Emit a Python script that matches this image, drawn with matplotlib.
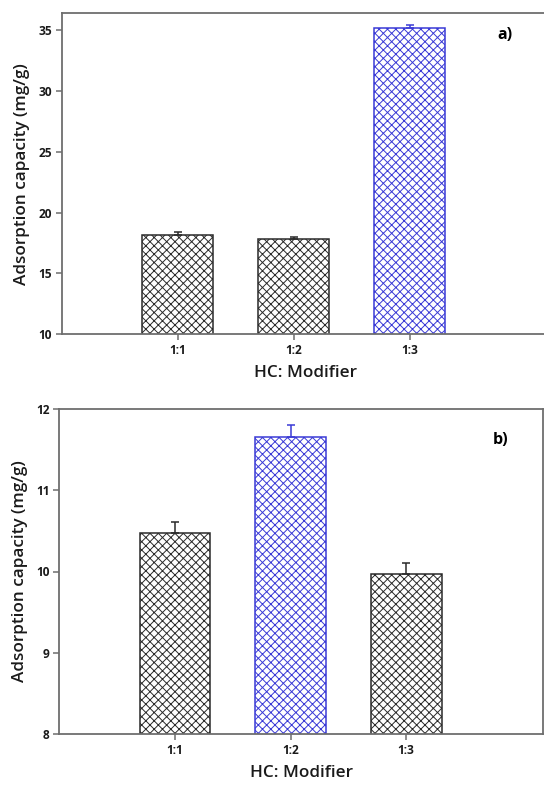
import matplotlib
matplotlib.use("Agg")
import matplotlib.pyplot as plt
import numpy as np

# data
ratios = ["1:1", "1:2", "1:3"]
cap_a = [18.13, 17.80, 35.19]
err_a = [0.25, 0.22, 0.28]
cap_b = [10.47, 11.66, 9.97]
err_b = [0.14, 0.14, 0.13]
hi_a = 2  # index of the blue bar
hi_b = 1

plt.rcParams['font.family'] = ['Open Sans', 'DejaVu Sans']
plt.rcParams['hatch.linewidth'] = 0.7

blk = '#2a2a2a'
blue = '#3a3ad6'
spine = '#6e6e6e'

W, H = 544, 789
fig = plt.figure(figsize=(W / 100, H / 100), dpi=100)


def panel(rect, vals, errs, hi, ylim, yticks, xmax, tag, tagpos):
    ax = fig.add_axes(rect)
    x = np.arange(1, len(vals) + 1)
    for i in range(len(vals)):
        c = blue if i == hi else blk
        ax.bar(x[i], vals[i], width=0.61, bottom=0, color='white', edgecolor=c,
               hatch='xxxx', linewidth=1.1, zorder=2)
        ax.errorbar(x[i], vals[i], yerr=[[0], [errs[i]]], fmt='none', ecolor=c,
                    elinewidth=1.1, capsize=3, capthick=1.1, zorder=3)
    ax.set_xlim(0, xmax)
    ax.set_ylim(*ylim)
    ax.set_yticks(yticks)
    ax.set_xticks(x)
    ax.set_xticklabels(ratios)
    for s in ax.spines.values():
        s.set_color(spine)
        s.set_linewidth(1.3)
    ax.tick_params(direction='out', length=4, width=1.1, color=spine,
                   labelsize=8.6, pad=3)
    for lb in ax.get_xticklabels() + ax.get_yticklabels():
        lb.set_fontweight('bold')
        lb.set_color('#1a1a1a')
    ax.set_ylabel('Adsorption capacity (mg/g)', fontsize=12.3, fontweight='semibold',
                  color='#1a1a1a', labelpad=6)
    ax.set_xlabel('HC: Modifier', fontsize=12.3, fontweight='semibold',
                  color='#1a1a1a', labelpad=6)
    ax.text(tagpos[0], tagpos[1], tag, transform=ax.transAxes, fontsize=11.5,
            fontweight='bold', ha='left', va='center')
    return ax


# panel a runs past the right edge of the picture
panel([61.7 / W, 1 - 334 / H, (548.9 - 61.7) / W, (334 - 13.3) / H],
      cap_a, err_a, hi_a, (10, 36.4), [10, 15, 20, 25, 30, 35], 4.2, 'a)',
      ((497 - 61.7) / (548.9 - 61.7), 1 - (35 - 13.3) / (334 - 13.3)))
panel([59.3 / W, 1 - 734 / H, (542.7 - 59.3) / W, (734 - 409) / H],
      cap_b, err_b, hi_b, (8, 12), [8, 9, 10, 11, 12], 4.18, 'b)',
      ((493 - 59.3) / (542.7 - 59.3), 1 - (440 - 409) / (734 - 409)))

fig.savefig('out.png', dpi=100)
